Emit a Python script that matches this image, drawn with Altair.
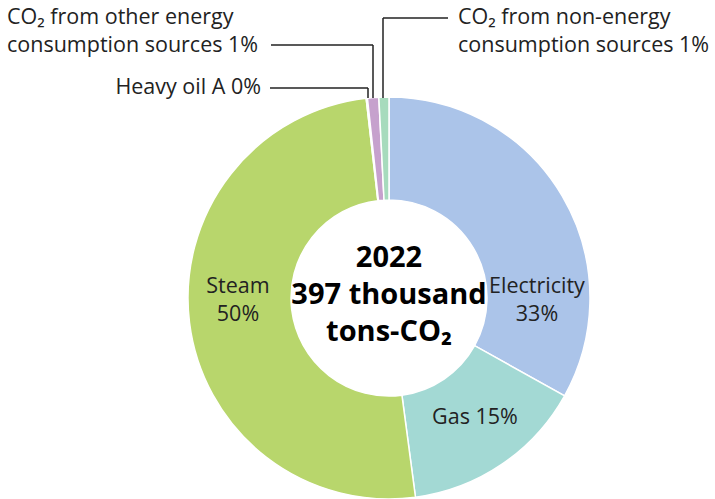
import altair as alt
import pandas as pd

# data (thousand tons-CO2, 2022)
categories = ["Electricity", "Gas", "Steam", "Heavy oil A",
              "CO₂ from other energy consumption sources",
              "CO₂ from non-energy consumption sources"]
values = [131.4, 58.8, 199.7, 0.4, 3.6, 3.2]
colors = ["#abc4e9", "#a3d9d4", "#b8d66c", "#c9b26a", "#c6a1cd", "#a7dbbd"]

df = pd.DataFrame({"category": categories, "value": values,
                   "order": list(range(len(categories)))})

CX, CY = 389, 298
FONT = "Open Sans"
TXT = "#222222"

donut = alt.Chart(df).mark_arc(innerRadius=98, outerRadius=201,
                               stroke="white", strokeWidth=1.5).encode(
    theta=alt.Theta("value:Q", stack=True),
    order=alt.Order("order:Q"),
    color=alt.Color("category:N", scale=alt.Scale(domain=categories, range=colors),
                    legend=None),
    x=alt.value(CX), y=alt.value(CY),
)

base = alt.Chart(pd.DataFrame({"a": [0]}))

def label(lines, x, y, align="center", size=21.5, bold=False, lh=28):
    return base.mark_text(font=FONT, fontSize=size, align=align, baseline="middle",
                          color="black" if bold else TXT,
                          fontWeight="bold" if bold else "normal",
                          lineHeight=lh).encode(
        x=alt.value(x), y=alt.value(y), text=alt.value(lines))

def rule(x1, y1, x2, y2):
    return base.mark_rule(color="#222222", strokeWidth=1.5).encode(
        x=alt.value(x1), y=alt.value(y1), x2=alt.value(x2), y2=alt.value(y2))

layers = [
    donut,
    label(["Electricity", "33%"], 537, 287),
    label(["Steam", "50%"], 238, 287),
    label("Gas 15%", 475, 418),
    label(["CO₂ from other energy", "consumption sources 1%"], 7, 18, align="left"),
    label("Heavy oil A 0%", 261, 88, align="right"),
    label(["CO₂ from non-energy", "consumption sources 1%"], 458, 18, align="left"),
    label(["2022", "397 thousand", "tons-CO₂"], CX, 258, size=29, bold=True, lh=37),
    rule(271, 45, 373, 45), rule(373, 45, 373, 98),
    rule(270, 88, 368, 88), rule(368, 88, 368, 98),
    rule(383, 18, 448, 18), rule(383, 18, 383, 98),
]

chart = alt.layer(*layers).properties(
    width=715, height=499, padding=0, autosize=alt.AutoSizeParams(type="none")
).configure_view(stroke=None)

chart.save("out.html", embed_options={"renderer": "svg", "actions": False})
